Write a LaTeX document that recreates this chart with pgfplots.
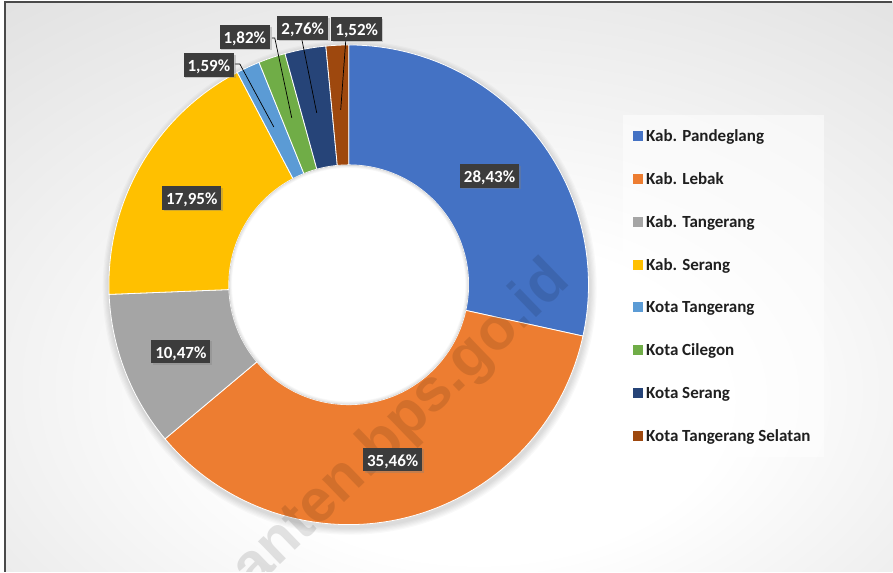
\documentclass[border=0pt]{standalone}
\usepackage{fontspec}
\setmainfont{Carlito}
\newfontfamily\wmfont{Liberation Sans}
\usepackage{pgfplots}
\usepackage{pgfplotstable}
\pgfplotsset{compat=1.18}
\usetikzlibrary{shadows}

\definecolor{cA}{HTML}{4472C4}
\definecolor{cB}{HTML}{ED7D31}
\definecolor{cC}{HTML}{A5A5A5}
\definecolor{cD}{HTML}{FFC000}
\definecolor{cE}{HTML}{5B9BD5}
\definecolor{cF}{HTML}{70AD47}
\definecolor{cG}{HTML}{264478}
\definecolor{cH}{HTML}{9E480E}
\definecolor{lblbg}{HTML}{3C3C3C}
\definecolor{frameC}{HTML}{4A4A4A}
\definecolor{bgOut}{HTML}{C2C2C2}

\pgfdeclareradialshading{bgshade}{\pgfpoint{2bp}{-12bp}}{%
  color(0bp)=(white);color(14bp)=(white);color(70bp)=(bgOut);color(90bp)=(bgOut)}

\tikzset{lbl/.style={fill=lblbg, text=white, font=\bfseries\fontsize{17}{17}\selectfont,
    inner xsep=4pt, inner ysep=5pt, text height=13.5pt, text depth=0pt,
    drop shadow={opacity=0.35, shadow xshift=1.5pt, shadow yshift=-1.5pt}}}

% share of each regency/city, clockwise from 12 o'clock
\pgfplotstableread{
share col
28.43 cA
35.46 cB
10.47 cC
17.95 cD
1.59 cE
1.82 cF
2.76 cG
1.52 cH
}\sharetable

\begin{document}
\begin{tikzpicture}
\begin{axis}[
  scale only axis, width=893pt, height=572pt,
  xmin=0, xmax=893, ymin=0, ymax=572,
  axis lines=none, clip=false,
  legend image code/.code={\fill[#1,fill opacity=1] (0pt,-5pt) rectangle (10pt,5pt);},
  legend style={at={(0.6976,0.799)}, anchor=north west, draw=none,
    fill=white, fill opacity=0.55, text opacity=1,
    inner xsep=10pt, inner ysep=15.5pt, row sep=31.86pt,
    font=\bfseries\fontsize{17}{17}\selectfont, text=black!88,
    nodes={inner xsep=3.5pt, inner ysep=0pt, text height=11pt, text depth=0pt},
    cells={anchor=west}},
]
\pgfplotsextra{
  \fill[white] (0,0) rectangle (893,572);
  \shade[shading=bgshade] (5,0) rectangle (893,570);
  \draw[frameC, line width=1.5pt] (5,0) -- (5,570) -- (893,570);
  % soft shadow of the ring
  \foreach \k in {1,...,6}{
    \fill[black, opacity=0.025] (350,284) circle[radius={240pt+\k*1.2pt}];
  }
  \gdef\angS{90}
  \foreach \i in {0,...,7}{
    \pgfplotstablegetelem{\i}{share}\of\sharetable
    \let\v\pgfplotsretval
    \pgfplotstablegetelem{\i}{col}\of\sharetable
    \let\c\pgfplotsretval
    \pgfmathsetmacro\angE{\angS-3.6*\v}
    \fill[\c, draw=white, line width=0.8pt]
      ({349+240*cos(\angS)},{287+240*sin(\angS)})
      arc[start angle=\angS, end angle=\angE, radius=240pt]
      -- ({349+120*cos(\angE)},{287+120*sin(\angE)})
      arc[start angle=\angE, end angle=\angS, radius=120pt] -- cycle;
    \global\let\angS\angE
  }
  % hole, with a faint inner shadow
  \fill[white] (349,287) circle[radius=119.6pt];
  \begin{scope}
    \clip (349,287) circle[radius=120pt];
    \foreach \k in {1,...,5}{
      \draw[black, opacity=0.025, line width={\k*1.3pt}] (349,287) circle[radius=120pt];
    }
  \end{scope}
  % watermark
  \begin{scope}
    \clip (0,0) rectangle (893,572);
    \node[rotate=44, text=black, text opacity=0.11, font=\wmfont\bfseries\fontsize{60}{60}\selectfont]
      at (389,133) {banten.bps.go.id};
  \end{scope}
  % leader lines
  \draw[black, line width=0.7pt] (235,508) -- (240,508) -- (274,445);
  \draw[black, line width=0.7pt] (272,534) -- (275,534) -- (292,454);
  \draw[black, line width=0.7pt] (302,533) -- (317,459);
  \draw[black, line width=0.7pt] (346,531) -- (341,462);
  % data labels
  \node[lbl] at (490,396) {28,43\%};
  \node[lbl] at (393,112) {35,46\%};
  \node[lbl] at (181,220) {10,47\%};
  \node[lbl] at (192,374) {17,95\%};
  \node[lbl] at (209,507) {1,59\%};
  \node[lbl] at (245,535) {1,82\%};
  \node[lbl] at (303,544) {2,76\%};
  \node[lbl] at (357,543) {1,52\%};
}
\addlegendimage{fill=cA, draw=none}\addlegendentry{Kab. Pandeglang}
\addlegendimage{fill=cB, draw=none}\addlegendentry{Kab. Lebak}
\addlegendimage{fill=cC, draw=none}\addlegendentry{Kab. Tangerang}
\addlegendimage{fill=cD, draw=none}\addlegendentry{Kab. Serang}
\addlegendimage{fill=cE, draw=none}\addlegendentry{Kota Tangerang}
\addlegendimage{fill=cF, draw=none}\addlegendentry{Kota Cilegon}
\addlegendimage{fill=cG, draw=none}\addlegendentry{Kota Serang}
\addlegendimage{fill=cH, draw=none}\addlegendentry{Kota Tangerang Selatan}
\end{axis}
\end{tikzpicture}
\end{document}
